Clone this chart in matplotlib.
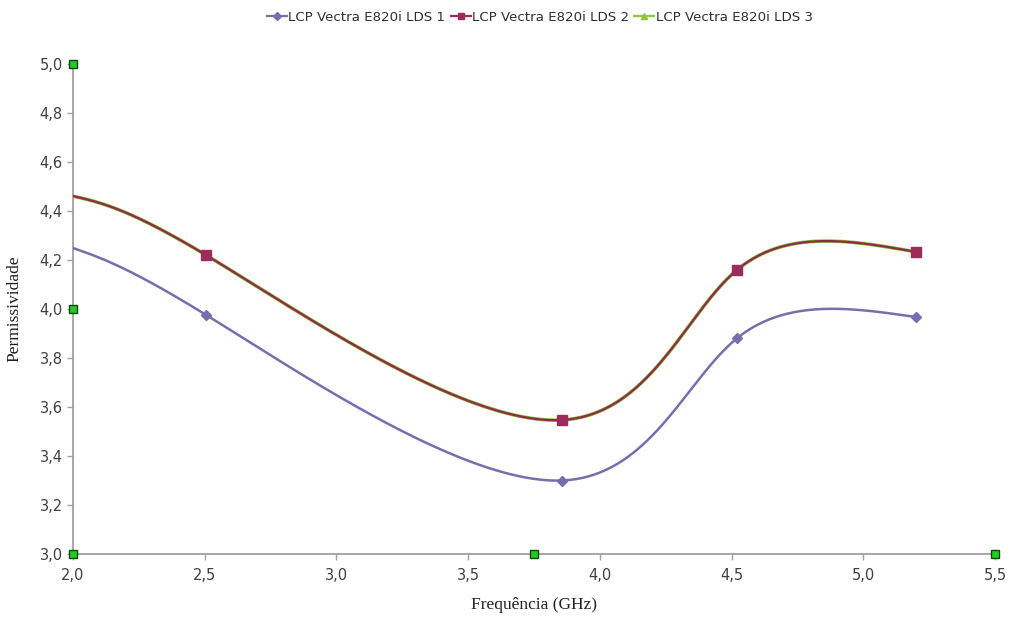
import numpy as np
import matplotlib
matplotlib.use("Agg")
import matplotlib.pyplot as plt
from matplotlib.ticker import FuncFormatter, MultipleLocator

# measured permittivity vs frequency
freq = [2.0, 2.505, 3.856, 4.52, 5.2]
lds1 = [4.249, 3.976, 3.300, 3.880, 3.967]
lds2 = [4.461, 4.220, 3.547, 4.159, 4.233]
lds3 = [4.461, 4.220, 3.547, 4.159, 4.233]
names = ["LCP Vectra E820i LDS 1", "LCP Vectra E820i LDS 2", "LCP Vectra E820i LDS 3"]

# chart handles on the axes
handle_x = [2.0, 2.0, 2.0, 3.75, 5.5]
handle_y = [5.0, 4.0, 3.0, 3.0, 3.0]

XPX, YPX = 263.4, 245.0  # screen scale of one unit on each axis


def spline1d(t, y, tt):
    # natural cubic spline of y(t), evaluated at tt
    t = np.asarray(t, float)
    y = np.asarray(y, float)
    k = len(t)
    h = np.diff(t)
    A = np.zeros((k, k))
    b = np.zeros(k)
    A[0, 0] = A[-1, -1] = 1.0
    for i in range(1, k - 1):
        A[i, i - 1] = h[i - 1]
        A[i, i] = 2 * (h[i - 1] + h[i])
        A[i, i + 1] = h[i]
        b[i] = 6 * ((y[i + 1] - y[i]) / h[i] - (y[i] - y[i - 1]) / h[i - 1])
    m = np.linalg.solve(A, b)
    idx = np.clip(np.searchsorted(t, tt) - 1, 0, k - 2)
    x0, x1 = t[idx], t[idx + 1]
    hh = x1 - x0
    t0, t1 = x1 - tt, tt - x0
    return (m[idx] * t0**3 + m[idx + 1] * t1**3) / (6 * hh) \
        + (y[idx] / hh - m[idx] * hh / 6) * t0 \
        + (y[idx + 1] / hh - m[idx + 1] * hh / 6) * t1


def smooth(x, y, alpha=0.2, n=500):
    # parametric spline through the points (near-uniform parameter)
    x = np.asarray(x, float)
    y = np.asarray(y, float)
    d = np.hypot(np.diff(x) * XPX, np.diff(y) * YPX) ** alpha
    t = np.concatenate([[0], np.cumsum(d)])
    tt = np.linspace(0, t[-1], n)
    return spline1d(t, x, tt), spline1d(t, y, tt)


fig = plt.figure(figsize=(10.11, 6.17), dpi=100)
ax = fig.add_axes([0.0722, 0.1021, 0.912, 0.7942])

c1, c2, c3 = "#7470AE", "#8E2A48", "#8DC63F"

ax.plot(*smooth(freq, lds3), color=c3, lw=2.6, zorder=2)
ax.plot(freq[1:], lds3[1:], ls="none", marker="^", ms=6, color=c3, zorder=2)

ax.plot(*smooth(freq, lds2), color=c2, lw=1.6, zorder=3)
ax.plot(freq[1:], lds2[1:], ls="none", marker="s", ms=7, color="#9C2C5C", zorder=4)

ax.plot(*smooth(freq, lds1), color=c1, lw=1.8, zorder=3)
ax.plot(freq[1:], lds1[1:], ls="none", marker="D", ms=5, color=c1, zorder=4)

ax.plot(handle_x, handle_y, ls="none", marker="s", ms=6, mfc="#22CC22",
        mec="#114411", mew=1.0, clip_on=False, zorder=6)

ax.set_xlim(2.0, 5.5)
ax.set_ylim(3.0, 5.0)
ax.xaxis.set_major_locator(MultipleLocator(0.5))
ax.yaxis.set_major_locator(MultipleLocator(0.2))
comma = FuncFormatter(lambda v, p: f"{v:.1f}".replace(".", ","))
ax.xaxis.set_major_formatter(comma)
ax.yaxis.set_major_formatter(comma)

for s in ["top", "right"]:
    ax.spines[s].set_visible(False)
for s in ["left", "bottom"]:
    ax.spines[s].set_color("#A0A0A0")
    ax.spines[s].set_linewidth(1.3)
ax.tick_params(colors="#A0A0A0", length=4, width=1.0, labelcolor="#404040",
               labelsize=10.5)
ax.tick_params(axis="x", pad=6)

ax.set_xlabel("Frequência (GHz)", family="Liberation Serif", fontsize=12.5,
              color="#202020", labelpad=10)
ax.set_ylabel("Permissividade", family="Liberation Serif", fontsize=12.5,
              color="#202020", labelpad=12)

h1, = ax.plot([], [], color=c1, marker="D", ms=4, lw=1.6)
h2, = ax.plot([], [], color="#9C2C5C", marker="s", ms=5, lw=1.6)
h3, = ax.plot([], [], color=c3, marker="^", ms=5, lw=1.6)
fig.legend([h1, h2, h3], names, loc="center", bbox_to_anchor=(0.534, 0.972),
           ncol=3, frameon=False, fontsize=9.6, handlelength=1.5,
           handletextpad=0.1, columnspacing=0.4, labelcolor="#303030")

fig.savefig("out.png", dpi=100)
